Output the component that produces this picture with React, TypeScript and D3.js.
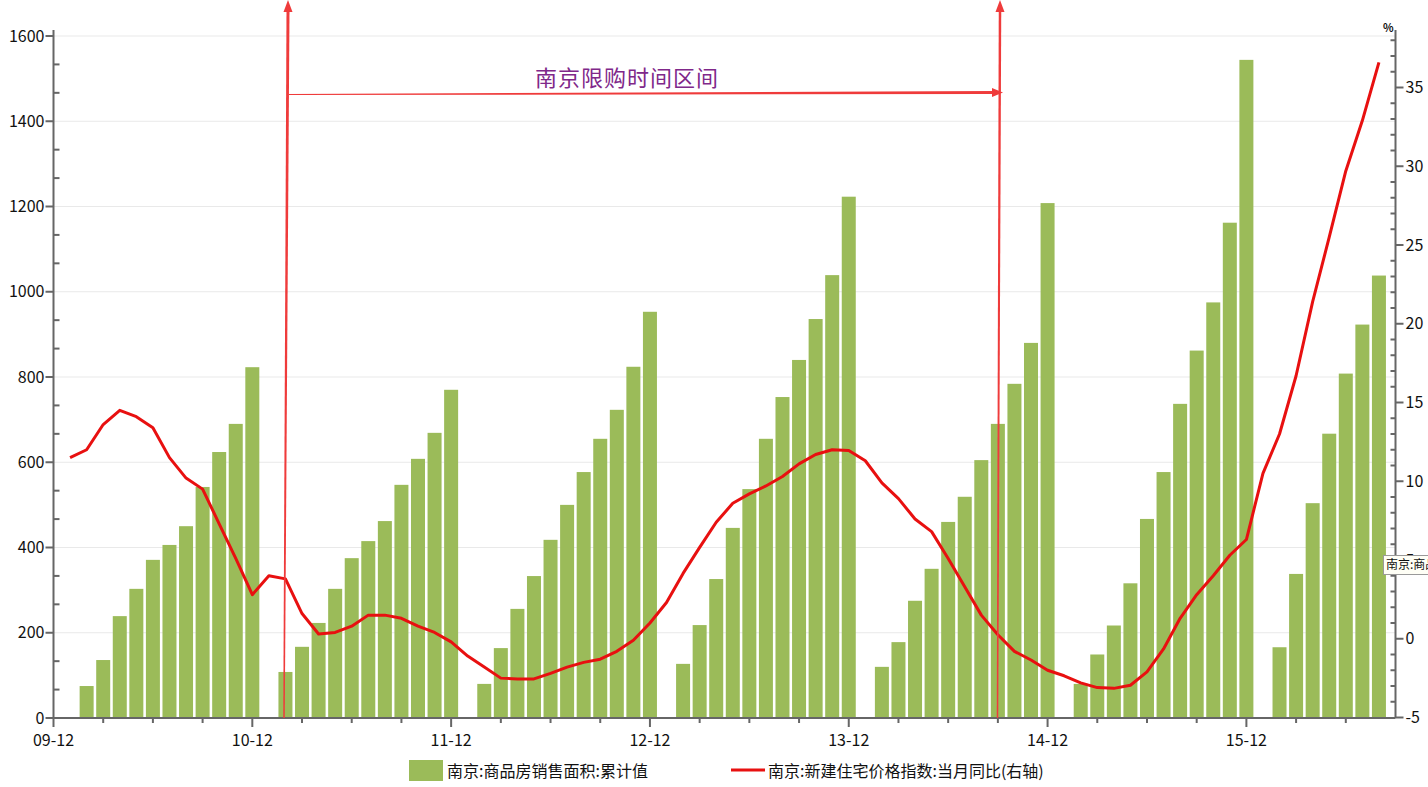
import React from "react";
import * as d3 from "d3";

// ---- data (month index 1 = 2010-01 ... 80 = 2016-08; 0 = 2009-12) ----
const xTickLabels = ["09-12", "10-12", "11-12", "12-12", "13-12", "14-12", "15-12"];
const leftTicks = [0, 200, 400, 600, 800, 1000, 1200, 1400, 1600];
const rightTicks = [-5, 0, 5, 10, 15, 20, 25, 30, 35];

// 南京:商品房销售面积:累计值 (Jan has no value)
const sales2010 = [null, 75, 136, 239, 303, 371, 406, 450, 542, 624, 690, 823];
const sales2011 = [null, 108, 167, 223, 303, 375, 415, 462, 547, 608, 669, 770];
const sales2012 = [null, 80, 164, 256, 333, 418, 500, 577, 655, 723, 824, 953];
const sales2013 = [null, 127, 218, 326, 446, 537, 655, 753, 840, 936, 1039, 1223];
const sales2014 = [null, 120, 178, 275, 350, 460, 519, 605, 690, 784, 880, 1208];
const sales2015 = [null, 80, 149, 217, 316, 467, 577, 737, 862, 975, 1162, 1544];
const sales2016 = [null, 166, 338, 504, 667, 808, 923, 1038];

// 南京:新建住宅价格指数:当月同比 (右轴)
const yoy2010 = [11.5, 12.0, 13.6, 14.5, 14.1, 13.4, 11.5, 10.2, 9.5, 7.3, 5.1, 2.8];
const yoy2011 = [4.0, 3.8, 1.6, 0.3, 0.4, 0.8, 1.5, 1.5, 1.3, 0.8, 0.4, -0.2];
const yoy2012 = [-1.1, -1.8, -2.5, -2.55, -2.55, -2.2, -1.8, -1.5, -1.3, -0.8, -0.1, 1.0];
const yoy2013 = [2.3, 4.15, 5.8, 7.4, 8.6, 9.2, 9.7, 10.3, 11.1, 11.7, 12.0, 11.95];
const yoy2014 = [11.3, 9.9, 8.9, 7.6, 6.8, 5.1, 3.3, 1.5, 0.25, -0.8, -1.35, -2.0];
const yoy2015 = [-2.35, -2.8, -3.1, -3.15, -2.95, -2.1, -0.65, 1.3, 2.8, 4.0, 5.3, 6.3];
const yoy2016 = [10.5, 13.0, 16.7, 21.4, 25.5, 29.7, 32.9, 36.6];

const salesSeries: (number | null)[] = [
  ...sales2010, ...sales2011, ...sales2012, ...sales2013, ...sales2014, ...sales2015, ...sales2016,
];
const yoySeries: number[] = [
  ...yoy2010, ...yoy2011, ...yoy2012, ...yoy2013, ...yoy2014, ...yoy2015, ...yoy2016,
];

const legendBar = "南京:商品房销售面积:累计值";
const legendLine = "南京:新建住宅价格指数:当月同比(右轴)";
const annotation = "南京限购时间区间";

// ---- layout ----
const W = 1428;
const H = 787;
const FONT = "'Noto Sans CJK SC', 'Noto Sans', sans-serif";
const AXIS = "#666666";
const GREEN = "#9bbb59";
const RED = "#e81010";
const ARROW = "#ef3b3b";

const x = d3.scaleLinear().domain([0, 81]).range([53.5, 1395.5]);
const yL = d3.scaleLinear().domain([0, 1600]).range([718, 36]);
const yR = d3.scaleLinear().domain([-5, 35]).range([717.5, 87.5]);
const axisTop = 30;
const barW = 14;

export default function App() {
  const line = d3
    .line<number>()
    .x((_, i) => x(i + 1))
    .y((d) => yR(d))
    .curve(d3.curveLinear);

  const leftMinor = d3.range(0, 1601, 200 / 3).filter((v) => Math.abs(v % 200) > 1 && Math.abs((v % 200) - 200) > 1);
  const rightMinor = d3.range(-5, 39, 1).filter((v) => v % 5 !== 0);
  const xMinor = d3.range(3, 81, 3).filter((m) => m % 12 !== 0);
  const xMajor = xTickLabels.map((_, i) => i * 12);

  const taper = (x1: number, y1: number, w1: number, x2: number, y2: number, w2: number, vertical: boolean) => {
    if (vertical)
      return `M${x1 - w1 / 2},${y1} L${x1 + w1 / 2},${y1} L${x2 + w2 / 2},${y2} L${x2 - w2 / 2},${y2} Z`;
    return `M${x1},${y1 - w1 / 2} L${x1},${y1 + w1 / 2} L${x2},${y2 + w2 / 2} L${x2},${y2 - w2 / 2} Z`;
  };

  return (
    <svg
      width={W}
      height={H}
      style={{ position: "absolute", left: 0, top: 0, background: "#fff" }}
      fontFamily={FONT}
    >
      {/* grid */}
      {leftTicks.slice(1).map((t) => (
        <line key={"g" + t} x1={x(0)} x2={x(81)} y1={yL(t)} y2={yL(t)} stroke="#e9e9e9" strokeWidth={1} />
      ))}

      {/* bars */}
      {salesSeries.map((v, i) =>
        v == null ? null : (
          <rect key={"b" + i} x={x(i + 1) - barW / 2} y={yL(v)} width={barW} height={yL(0) - yL(v)} fill={GREEN} />
        )
      )}

      {/* line */}
      <path d={line(yoySeries) || ""} fill="none" stroke={RED} strokeWidth={3} strokeLinejoin="round" />

      {/* left axis */}
      <line x1={x(0)} x2={x(0)} y1={axisTop} y2={718} stroke={AXIS} strokeWidth={2} />
      {leftTicks.map((t) => (
        <g key={"lt" + t}>
          <line x1={x(0) - 8} x2={x(0)} y1={yL(t)} y2={yL(t)} stroke={AXIS} strokeWidth={2} />
          <text x={x(0) - 9} y={yL(t)} dy="0.35em" textAnchor="end" fontSize={16} fill="#111">
            {t}
          </text>
        </g>
      ))}
      {leftMinor.map((t) => (
        <line key={"lm" + t} x1={x(0)} x2={x(0) + 6} y1={yL(t)} y2={yL(t)} stroke={AXIS} strokeWidth={2} />
      ))}

      {/* right axis */}
      <line x1={x(81)} x2={x(81)} y1={axisTop} y2={718} stroke={AXIS} strokeWidth={2} />
      {rightTicks.map((t) => (
        <g key={"rt" + t}>
          <line x1={x(81)} x2={x(81) + 8} y1={yR(t)} y2={yR(t)} stroke={AXIS} strokeWidth={2} />
          <text x={x(81) + 10} y={yR(t)} dy="0.35em" textAnchor="start" fontSize={16} fill="#111">
            {t}
          </text>
        </g>
      ))}
      {rightMinor.map((t) => (
        <line key={"rm" + t} x1={x(81) - 5} x2={x(81)} y1={yR(t)} y2={yR(t)} stroke={AXIS} strokeWidth={2} />
      ))}
      <text x={x(81) - 2} y={32} textAnchor="end" fontSize={11} fontWeight="bold" fill="#111">
        %
      </text>

      {/* x axis */}
      <line x1={x(0)} x2={x(81)} y1={718} y2={718} stroke={AXIS} strokeWidth={2} />
      {xMajor.map((m, i) => (
        <g key={"xm" + m}>
          <line x1={x(m)} x2={x(m)} y1={718} y2={727} stroke={AXIS} strokeWidth={2} />
          <text x={x(m)} y={740} dy="0.35em" textAnchor="middle" fontSize={16} fill="#111">
            {xTickLabels[i]}
          </text>
        </g>
      ))}
      {xMinor.map((m) => (
        <line key={"xn" + m} x1={x(m)} x2={x(m)} y1={718} y2={723} stroke={AXIS} strokeWidth={2} />
      ))}

      {/* annotations */}
      <path d={taper(288, 10, 3, 284, 718, 1.5, true)} fill={ARROW} />
      <path d="M288,0 L283.5,12 L292.5,12 Z" fill={ARROW} />
      <path d={taper(1000, 10, 2.5, 997.5, 718, 1.5, true)} fill={ARROW} />
      <path d="M1000,0 L995.5,12 L1004.5,12 Z" fill={ARROW} />
      <path d={taper(289, 94.5, 1, 994, 92.5, 3, false)} fill={ARROW} />
      <path d="M1003,92.5 L992,88 L992,97 Z" fill={ARROW} />
      <text x={627} y={78} dy="0.35em" textAnchor="middle" fontSize={22} fill="#80288a" letterSpacing={1}>
        {annotation}
      </text>

      {/* legend */}
      <rect x={409} y={760} width={34} height={21} fill={GREEN} />
      <text x={447} y={771} dy="0.35em" fontSize={16} fill="#111">
        {legendBar}
      </text>
      <line x1={731} x2={765} y1={770} y2={770} stroke={RED} strokeWidth={3} />
      <text x={768} y={771} dy="0.35em" fontSize={16} fill="#111">
        {legendLine}
      </text>

      {/* tooltip fragment at the right edge (covers the "5" label, as in the reference) */}
      <rect x={1383.5} y={555.5} width={120} height={19} fill="#fffff6" stroke="#9a9a9a" strokeWidth={1} />
      <text x={1386} y={565} dy="0.35em" fontSize={12} fill="#111">
        {legendBar}
      </text>
    </svg>
  );
}
